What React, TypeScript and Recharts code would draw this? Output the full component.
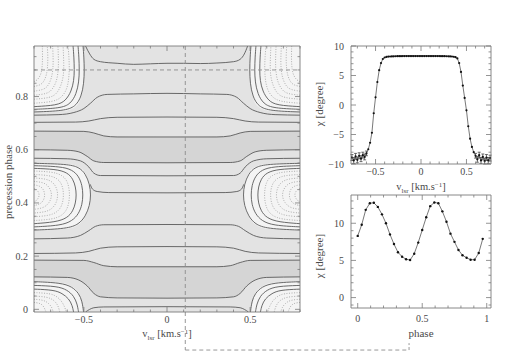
import React from 'react';
import { ComposedChart, Line, Area, XAxis, YAxis, ReferenceLine, ErrorBar } from 'recharts';

type Pt = [number, number];

// ---------- tick values ----------
const contourVTicks = [-0.8, -0.7, -0.6, -0.5, -0.4, -0.3, -0.2, -0.1, 0, 0.1, 0.2, 0.3, 0.4, 0.5, 0.6, 0.7, 0.8];
const contourPhaseTicks = [0, 0.05, 0.1, 0.15, 0.2, 0.25, 0.3, 0.35, 0.4, 0.45, 0.5, 0.55, 0.6, 0.65, 0.7, 0.75, 0.8, 0.85, 0.9, 0.95];
const profileVTicks = [-0.7, -0.6, -0.5, -0.4, -0.3, -0.2, -0.1, 0, 0.1, 0.2, 0.3, 0.4, 0.5, 0.6, 0.7];
const profileChiTicks = [-10, -9, -8, -7, -6, -5, -4, -3, -2, -1, 0, 1, 2, 3, 4, 5, 6, 7, 8, 9, 10];
const phaseTicks = [0, 0.1, 0.2, 0.3, 0.4, 0.5, 0.6, 0.7, 0.8, 0.9, 1];
const phaseChiTicks = [-1, 0, 1, 2, 3, 4, 5, 6, 7, 8, 9, 10, 11, 12, 13];

// ---------- cuts ----------
const cutV = 0.11;
const cutPhase = 0.9;
const bracketPhase = -0.153;
const bracketTickPhase = -0.127;
const bracketEndV = 1.456;

// ---------- contour map: full-width contour lines (v, phase) ----------
const L1: Pt[] = [[-0.49, 0.99], [-0.465, 0.96], [-0.44, 0.94], [-0.4, 0.931], [-0.3, 0.925], [-0.2, 0.921], [-0.1, 0.923], [0, 0.925], [0.1, 0.925], [0.2, 0.924], [0.3, 0.926], [0.4, 0.931], [0.44, 0.94], [0.465, 0.96], [0.485, 0.99]];
const L2: Pt[] = [[-0.8, 0.73], [-0.65, 0.732], [-0.56, 0.74], [-0.5, 0.755], [-0.46, 0.775], [-0.42, 0.797], [-0.36, 0.808], [-0.2, 0.81], [0, 0.812], [0.2, 0.81], [0.36, 0.808], [0.42, 0.797], [0.46, 0.775], [0.5, 0.755], [0.56, 0.74], [0.65, 0.732], [0.8, 0.73]];
const L3: Pt[] = [[-0.8, 0.703], [-0.55, 0.704], [-0.47, 0.708], [-0.4, 0.717], [-0.3, 0.722], [0, 0.723], [0.3, 0.722], [0.4, 0.717], [0.47, 0.708], [0.55, 0.704], [0.8, 0.703]];
const L4: Pt[] = [[-0.8, 0.67], [-0.5, 0.669], [-0.44, 0.663], [-0.38, 0.652], [-0.3, 0.648], [0, 0.648], [0.3, 0.648], [0.38, 0.652], [0.44, 0.663], [0.5, 0.669], [0.8, 0.67]];
const L5: Pt[] = [[-0.8, 0.6], [-0.6, 0.598], [-0.53, 0.592], [-0.48, 0.575], [-0.44, 0.558], [-0.38, 0.552], [0, 0.551], [0.38, 0.552], [0.44, 0.558], [0.48, 0.575], [0.53, 0.592], [0.6, 0.598], [0.8, 0.6]];
const L6: Pt[] = [[-0.8, 0.568], [-0.6, 0.566], [-0.52, 0.558], [-0.47, 0.535], [-0.44, 0.512], [-0.4, 0.503], [0, 0.502], [0.4, 0.503], [0.44, 0.512], [0.47, 0.535], [0.52, 0.558], [0.6, 0.566], [0.8, 0.568]];
const L7: Pt[] = [[-0.462, 0.47], [-0.448, 0.452], [-0.42, 0.443], [-0.35, 0.439], [0, 0.438], [0.35, 0.439], [0.42, 0.443], [0.448, 0.452], [0.462, 0.47]];
const L8: Pt[] = [[-0.8, 0.265], [-0.6, 0.268], [-0.52, 0.278], [-0.47, 0.296], [-0.43, 0.312], [-0.38, 0.318], [0, 0.319], [0.38, 0.318], [0.43, 0.312], [0.47, 0.296], [0.52, 0.278], [0.6, 0.268], [0.8, 0.265]];
const L9: Pt[] = [[-0.8, 0.21], [-0.55, 0.212], [-0.47, 0.218], [-0.4, 0.23], [-0.3, 0.235], [0, 0.236], [0.3, 0.235], [0.4, 0.23], [0.47, 0.218], [0.55, 0.212], [0.8, 0.21]];
const L10: Pt[] = [[-0.8, 0.185], [-0.5, 0.184], [-0.44, 0.176], [-0.38, 0.164], [-0.3, 0.16], [0, 0.16], [0.3, 0.16], [0.38, 0.164], [0.44, 0.176], [0.5, 0.184], [0.8, 0.185]];
const L11: Pt[] = [[-0.8, 0.122], [-0.6, 0.12], [-0.53, 0.11], [-0.48, 0.088], [-0.44, 0.06], [-0.4, 0.047], [-0.3, 0.043], [0, 0.042], [0.3, 0.043], [0.4, 0.047], [0.44, 0.06], [0.48, 0.088], [0.53, 0.11], [0.6, 0.12], [0.8, 0.122]];
const L12: Pt[] = [[-0.49, -0.01], [-0.465, 0.0], [-0.44, 0.006], [-0.38, 0.009], [0, 0.01], [0.38, 0.009], [0.44, 0.006], [0.465, 0.0], [0.49, -0.01]];

// ---------- central islands (solid) ----------
const O1L: Pt[] = [[-0.8, 0.549], [-0.6, 0.546], [-0.53, 0.535], [-0.49, 0.51], [-0.465, 0.47], [-0.458, 0.43], [-0.465, 0.39], [-0.49, 0.35], [-0.53, 0.32], [-0.6, 0.303], [-0.8, 0.298]];
const O2L: Pt[] = [[-0.8, 0.54], [-0.64, 0.537], [-0.57, 0.525], [-0.53, 0.5], [-0.51, 0.465], [-0.505, 0.43], [-0.51, 0.395], [-0.53, 0.36], [-0.57, 0.332], [-0.64, 0.315], [-0.8, 0.31]];
const O3L: Pt[] = [[-0.8, 0.53], [-0.67, 0.527], [-0.6, 0.515], [-0.565, 0.49], [-0.55, 0.46], [-0.545, 0.43], [-0.55, 0.4], [-0.565, 0.37], [-0.6, 0.343], [-0.67, 0.328], [-0.8, 0.322]];
const O1R: Pt[] = [[0.8, 0.549], [0.6, 0.546], [0.53, 0.535], [0.49, 0.51], [0.465, 0.47], [0.458, 0.43], [0.465, 0.39], [0.49, 0.35], [0.53, 0.32], [0.6, 0.303], [0.8, 0.298]];
const O2R: Pt[] = [[0.8, 0.54], [0.64, 0.537], [0.57, 0.525], [0.53, 0.5], [0.51, 0.465], [0.505, 0.43], [0.51, 0.395], [0.53, 0.36], [0.57, 0.332], [0.64, 0.315], [0.8, 0.31]];
const O3R: Pt[] = [[0.8, 0.53], [0.67, 0.527], [0.6, 0.515], [0.565, 0.49], [0.55, 0.46], [0.545, 0.43], [0.55, 0.4], [0.565, 0.37], [0.6, 0.343], [0.67, 0.328], [0.8, 0.322]];

// ---------- central islands (dotted) ----------
const C1L: Pt[] = [[-0.8, 0.52], [-0.69, 0.517], [-0.63, 0.505], [-0.595, 0.48], [-0.583, 0.43], [-0.595, 0.38], [-0.63, 0.352], [-0.69, 0.338], [-0.8, 0.334]];
const C2L: Pt[] = [[-0.8, 0.507], [-0.71, 0.504], [-0.66, 0.493], [-0.63, 0.47], [-0.62, 0.43], [-0.63, 0.39], [-0.66, 0.365], [-0.71, 0.352], [-0.8, 0.348]];
const C3L: Pt[] = [[-0.8, 0.494], [-0.73, 0.491], [-0.69, 0.48], [-0.665, 0.46], [-0.655, 0.43], [-0.665, 0.4], [-0.69, 0.378], [-0.73, 0.366], [-0.8, 0.362]];
const C4L: Pt[] = [[-0.8, 0.481], [-0.75, 0.478], [-0.72, 0.468], [-0.7, 0.45], [-0.693, 0.43], [-0.7, 0.41], [-0.72, 0.392], [-0.75, 0.38], [-0.8, 0.376]];
const C5L: Pt[] = [[-0.8, 0.468], [-0.77, 0.465], [-0.745, 0.455], [-0.732, 0.43], [-0.745, 0.405], [-0.77, 0.394], [-0.8, 0.39]];
const C6L: Pt[] = [[-0.8, 0.455], [-0.785, 0.452], [-0.772, 0.44], [-0.768, 0.43], [-0.772, 0.42], [-0.785, 0.408], [-0.8, 0.405]];
const C1R: Pt[] = [[0.8, 0.52], [0.69, 0.517], [0.63, 0.505], [0.595, 0.48], [0.583, 0.43], [0.595, 0.38], [0.63, 0.352], [0.69, 0.338], [0.8, 0.334]];
const C2R: Pt[] = [[0.8, 0.507], [0.71, 0.504], [0.66, 0.493], [0.63, 0.47], [0.62, 0.43], [0.63, 0.39], [0.66, 0.365], [0.71, 0.352], [0.8, 0.348]];
const C3R: Pt[] = [[0.8, 0.494], [0.73, 0.491], [0.69, 0.48], [0.665, 0.46], [0.655, 0.43], [0.665, 0.4], [0.69, 0.378], [0.73, 0.366], [0.8, 0.362]];
const C4R: Pt[] = [[0.8, 0.481], [0.75, 0.478], [0.72, 0.468], [0.7, 0.45], [0.693, 0.43], [0.7, 0.41], [0.72, 0.392], [0.75, 0.38], [0.8, 0.376]];
const C5R: Pt[] = [[0.8, 0.468], [0.77, 0.465], [0.745, 0.455], [0.732, 0.43], [0.745, 0.405], [0.77, 0.394], [0.8, 0.39]];
const C6R: Pt[] = [[0.8, 0.455], [0.785, 0.452], [0.772, 0.44], [0.768, 0.43], [0.772, 0.42], [0.785, 0.408], [0.8, 0.405]];

// ---------- top islands ----------
const T1L: Pt[] = [[-0.8, 0.742], [-0.62, 0.746], [-0.55, 0.762], [-0.515, 0.8], [-0.5, 0.85], [-0.497, 0.9], [-0.5, 0.95], [-0.505, 0.99]];
const T2L: Pt[] = [[-0.8, 0.752], [-0.64, 0.756], [-0.58, 0.772], [-0.545, 0.81], [-0.53, 0.855], [-0.527, 0.9], [-0.53, 0.95], [-0.535, 0.99]];
const T3L: Pt[] = [[-0.8, 0.762], [-0.66, 0.767], [-0.61, 0.784], [-0.575, 0.82], [-0.56, 0.86], [-0.557, 0.9], [-0.56, 0.95], [-0.565, 0.99]];
const T4L: Pt[] = [[-0.8, 0.775], [-0.68, 0.78], [-0.63, 0.798], [-0.6, 0.83], [-0.59, 0.87], [-0.587, 0.91], [-0.59, 0.95], [-0.595, 0.99]];
const T5L: Pt[] = [[-0.8, 0.79], [-0.7, 0.795], [-0.66, 0.812], [-0.635, 0.845], [-0.622, 0.88], [-0.62, 0.92], [-0.625, 0.99]];
const T6L: Pt[] = [[-0.8, 0.805], [-0.72, 0.81], [-0.69, 0.826], [-0.665, 0.855], [-0.655, 0.89], [-0.652, 0.93], [-0.656, 0.99]];
const T7L: Pt[] = [[-0.8, 0.82], [-0.74, 0.826], [-0.715, 0.84], [-0.695, 0.868], [-0.686, 0.9], [-0.684, 0.94], [-0.688, 0.99]];
const T8L: Pt[] = [[-0.8, 0.838], [-0.76, 0.843], [-0.74, 0.857], [-0.725, 0.88], [-0.718, 0.91], [-0.716, 0.95], [-0.72, 0.99]];
const T9L: Pt[] = [[-0.8, 0.856], [-0.78, 0.862], [-0.762, 0.878], [-0.752, 0.9], [-0.748, 0.94], [-0.75, 0.99]];
const T1R: Pt[] = [[0.8, 0.742], [0.62, 0.746], [0.55, 0.762], [0.515, 0.8], [0.5, 0.85], [0.497, 0.9], [0.5, 0.95], [0.505, 0.99]];
const T2R: Pt[] = [[0.8, 0.752], [0.64, 0.756], [0.58, 0.772], [0.545, 0.81], [0.53, 0.855], [0.527, 0.9], [0.53, 0.95], [0.535, 0.99]];
const T3R: Pt[] = [[0.8, 0.762], [0.66, 0.767], [0.61, 0.784], [0.575, 0.82], [0.56, 0.86], [0.557, 0.9], [0.56, 0.95], [0.565, 0.99]];
const T4R: Pt[] = [[0.8, 0.775], [0.68, 0.78], [0.63, 0.798], [0.6, 0.83], [0.59, 0.87], [0.587, 0.91], [0.59, 0.95], [0.595, 0.99]];
const T5R: Pt[] = [[0.8, 0.79], [0.7, 0.795], [0.66, 0.812], [0.635, 0.845], [0.622, 0.88], [0.62, 0.92], [0.625, 0.99]];
const T6R: Pt[] = [[0.8, 0.805], [0.72, 0.81], [0.69, 0.826], [0.665, 0.855], [0.655, 0.89], [0.652, 0.93], [0.656, 0.99]];
const T7R: Pt[] = [[0.8, 0.82], [0.74, 0.826], [0.715, 0.84], [0.695, 0.868], [0.686, 0.9], [0.684, 0.94], [0.688, 0.99]];
const T8R: Pt[] = [[0.8, 0.838], [0.76, 0.843], [0.74, 0.857], [0.725, 0.88], [0.718, 0.91], [0.716, 0.95], [0.72, 0.99]];
const T9R: Pt[] = [[0.8, 0.856], [0.78, 0.862], [0.762, 0.878], [0.752, 0.9], [0.748, 0.94], [0.75, 0.99]];

// ---------- bottom islands ----------
const B1L: Pt[] = [[-0.8, 0.104], [-0.64, 0.1], [-0.57, 0.085], [-0.53, 0.06], [-0.51, 0.03], [-0.502, -0.01]];
const B2L: Pt[] = [[-0.8, 0.09], [-0.66, 0.087], [-0.6, 0.073], [-0.56, 0.05], [-0.54, 0.02], [-0.532, -0.01]];
const B3L: Pt[] = [[-0.8, 0.076], [-0.68, 0.073], [-0.63, 0.06], [-0.59, 0.04], [-0.57, 0.015], [-0.562, -0.01]];
const B4L: Pt[] = [[-0.8, 0.063], [-0.7, 0.06], [-0.66, 0.048], [-0.625, 0.025], [-0.605, -0.01]];
const B5L: Pt[] = [[-0.8, 0.05], [-0.72, 0.047], [-0.68, 0.035], [-0.655, 0.015], [-0.645, -0.01]];
const B6L: Pt[] = [[-0.8, 0.038], [-0.74, 0.035], [-0.71, 0.022], [-0.69, 0.005], [-0.685, -0.01]];
const B7L: Pt[] = [[-0.8, 0.026], [-0.76, 0.023], [-0.74, 0.01], [-0.728, -0.01]];
const B1R: Pt[] = [[0.8, 0.104], [0.64, 0.1], [0.57, 0.085], [0.53, 0.06], [0.51, 0.03], [0.502, -0.01]];
const B2R: Pt[] = [[0.8, 0.09], [0.66, 0.087], [0.6, 0.073], [0.56, 0.05], [0.54, 0.02], [0.532, -0.01]];
const B3R: Pt[] = [[0.8, 0.076], [0.68, 0.073], [0.63, 0.06], [0.59, 0.04], [0.57, 0.015], [0.562, -0.01]];
const B4R: Pt[] = [[0.8, 0.063], [0.7, 0.06], [0.66, 0.048], [0.625, 0.025], [0.605, -0.01]];
const B5R: Pt[] = [[0.8, 0.05], [0.72, 0.047], [0.68, 0.035], [0.655, 0.015], [0.645, -0.01]];
const B6R: Pt[] = [[0.8, 0.038], [0.74, 0.035], [0.71, 0.022], [0.69, 0.005], [0.685, -0.01]];
const B7R: Pt[] = [[0.8, 0.026], [0.76, 0.023], [0.74, 0.01], [0.728, -0.01]];

// ---------- shaded regions [v, low, high] ----------
const shadeAll: [number, number, number][] = [[-0.8, -0.01, 0.99], [0.8, -0.01, 0.99]];
const bandX = [-0.8, -0.6, -0.53, -0.48, -0.44, -0.38, 0, 0.38, 0.44, 0.48, 0.53, 0.6, 0.8];
const bandUpperLo = [0.6, 0.598, 0.592, 0.575, 0.558, 0.552, 0.551, 0.552, 0.558, 0.575, 0.592, 0.598, 0.6];
const bandUpperHi = [0.67, 0.669, 0.669, 0.667, 0.663, 0.652, 0.648, 0.652, 0.663, 0.667, 0.669, 0.669, 0.67];
const bandLowerLo = [0.122, 0.12, 0.11, 0.088, 0.06, 0.046, 0.042, 0.046, 0.06, 0.088, 0.11, 0.12, 0.122];
const bandLowerHi = [0.185, 0.185, 0.185, 0.182, 0.176, 0.164, 0.16, 0.164, 0.176, 0.182, 0.185, 0.185, 0.185];
const islandCenterL: [number, number, number][] = [[-0.8, 0.298, 0.549], [-0.6, 0.303, 0.546], [-0.53, 0.32, 0.535], [-0.49, 0.35, 0.51], [-0.465, 0.39, 0.47], [-0.458, 0.43, 0.43]];
const islandCenterR: [number, number, number][] = [[0.458, 0.43, 0.43], [0.465, 0.39, 0.47], [0.49, 0.35, 0.51], [0.53, 0.32, 0.535], [0.6, 0.303, 0.546], [0.8, 0.298, 0.549]];
const islandTopL: [number, number, number][] = [[-0.8, 0.742, 0.99], [-0.62, 0.746, 0.99], [-0.55, 0.762, 0.99], [-0.515, 0.8, 0.99], [-0.5, 0.85, 0.99]];
const islandTopR: [number, number, number][] = [[0.5, 0.85, 0.99], [0.515, 0.8, 0.99], [0.55, 0.762, 0.99], [0.62, 0.746, 0.99], [0.8, 0.742, 0.99]];
const islandBotL: [number, number, number][] = [[-0.8, -0.01, 0.104], [-0.64, -0.01, 0.1], [-0.57, -0.01, 0.085], [-0.53, -0.01, 0.06], [-0.502, -0.01, -0.01]];
const islandBotR: [number, number, number][] = [[0.502, -0.01, -0.01], [0.53, -0.01, 0.06], [0.57, -0.01, 0.085], [0.64, -0.01, 0.1], [0.8, -0.01, 0.104]];

// ---------- chi profile at phase 0.9 ----------
const profileV = [-0.76, -0.74, -0.72, -0.7, -0.68, -0.66, -0.64, -0.62, -0.6, -0.58, -0.56, -0.54, -0.52, -0.5, -0.48, -0.46, -0.44, -0.42, -0.4, -0.38, -0.36, -0.34, -0.32, -0.3, -0.28, -0.26, -0.24, -0.22, -0.2, -0.18, -0.16, -0.14, -0.12, -0.1, -0.08, -0.06, -0.04, -0.02, 0, 0.02, 0.04, 0.06, 0.08, 0.1, 0.12, 0.14, 0.16, 0.18, 0.2, 0.22, 0.24, 0.26, 0.28, 0.3, 0.32, 0.34, 0.36, 0.38, 0.4, 0.42, 0.44, 0.46, 0.48, 0.5, 0.52, 0.54, 0.56, 0.58, 0.6, 0.62, 0.64, 0.66, 0.68, 0.7, 0.72, 0.74, 0.76];
const profileChi = [-8.9, -9.4, -8.7, -9.3, -8.6, -9.1, -8.5, -8.8, -8.2, -7.5, -6.4, -4.7, -1.4, 1.3, 3.9, 5.9, 7.1, 7.8, 8.05, 8.15, 8.2, 8.22, 8.24, 8.25, 8.26, 8.27, 8.28, 8.28, 8.29, 8.29, 8.3, 8.3, 8.3, 8.3, 8.3, 8.3, 8.3, 8.3, 8.3, 8.3, 8.3, 8.3, 8.3, 8.3, 8.3, 8.3, 8.3, 8.29, 8.29, 8.28, 8.28, 8.27, 8.26, 8.25, 8.24, 8.22, 8.18, 8.1, 7.9, 7.1, 5.6, 3.3, 1.2, -0.9, -3.6, -5.7, -7.1, -8.0, -8.6, -9.2, -8.5, -9.4, -8.8, -9.5, -8.9, -9.4, -9.0];
const profileErr = [0.5, 0.5, 0.5, 0.5, 0.5, 0.5, 0.5, 0.5, 0.4, 0, 0, 0, 0, 0, 0, 0, 0, 0, 0, 0, 0, 0, 0, 0, 0, 0, 0, 0, 0, 0, 0, 0, 0, 0, 0, 0, 0, 0, 0, 0, 0, 0, 0, 0, 0, 0, 0, 0, 0, 0, 0, 0, 0, 0, 0, 0, 0, 0, 0, 0, 0, 0, 0, 0, 0, 0, 0, 0, 0.4, 0.5, 0.5, 0.5, 0.5, 0.5, 0.5, 0.5, 0.5];

// ---------- chi vs precession phase at v = 0.11 ----------
const phaseX = [0, 0.031, 0.062, 0.094, 0.125, 0.156, 0.188, 0.219, 0.25, 0.281, 0.312, 0.344, 0.375, 0.406, 0.438, 0.469, 0.5, 0.531, 0.562, 0.594, 0.625, 0.656, 0.688, 0.719, 0.75, 0.781, 0.812, 0.844, 0.875, 0.906, 0.938, 0.969];
const phaseChi = [8.3, 9.8, 11.8, 12.7, 12.75, 12.2, 11.2, 10.0, 8.5, 7.2, 6.1, 5.5, 5.15, 5.05, 5.9, 7.4, 9.1, 10.8, 12.3, 12.8, 12.7, 11.6, 10.2, 8.6, 7.5, 6.4, 5.7, 5.35, 5.1, 5.1, 6.0, 7.9];

// ---------- styles ----------
const FONT = '"Liberation Serif", "DejaVu Serif", "Times New Roman", serif';
const TEXT = '#4a4a4a';
const FRAME = '#7a7a7a';
const SOLID = '#5a5a5a';
const DOTTED = '#9c9c9c';
const DASH = '#8c8c8c';

// ---------- table builders ----------
const toXY = (pts: Pt[]) => pts.map(([x, y]) => ({ x, y }));
const toRange = (rows: [number, number, number][]) => rows.map(([x, lo, hi]) => ({ x, r: [lo, hi] }));
const bandRange = (lo: number[], hi: number[]) => bandX.map((x, i) => ({ x, r: [lo[i], hi[i]] }));
const profileData = profileV.map((x, i) => ({ x, y: profileChi[i], e: profileErr[i] }));
const phaseData = phaseX.map((x, i) => ({ x, y: phaseChi[i] }));

const fullLines: Pt[][] = [L1, L2, L3, L4, L5, L6, L7, L8, L9, L10, L11, L12];
const solidLoops: Pt[][] = [O1L, O2L, O3L, O1R, O2R, O3R, T1L, T2L, T3L, T1R, T2R, T3R, B1L, B2L, B3L, B1R, B2R, B3R];
const dottedLoops: Pt[][] = [C1L, C2L, C3L, C4L, C5L, C6L, C1R, C2R, C3R, C4R, C5R, C6R, T4L, T5L, T6L, T7L, T8L, T9L, T4R, T5R, T6R, T7R, T8R, T9R, B4L, B5L, B6L, B7L, B4R, B5R, B6R, B7R];

const fmtNum = (v: number) => {
  if (Math.abs(v) < 1e-9) return '0';
  const s = String(Math.round(v * 100) / 100);
  return s.replace('-', '\u2212');
};

type Side = 'bottom' | 'top' | 'left' | 'right';
const makeTick = (side: Side, majorStep: number, showLabel: boolean, gap: number) => (props: any) => {
  const { x, y, payload } = props;
  const v = payload && typeof payload.value === 'number' ? payload.value : 0;
  const major = Math.abs(v / majorStep - Math.round(v / majorStep)) < 1e-6;
  const len = major ? 5 : 2.5;
  let x2 = x;
  let y2 = y;
  if (side === 'bottom') y2 = y - len;
  if (side === 'top') y2 = y + len;
  if (side === 'left') x2 = x + len;
  if (side === 'right') x2 = x - len;
  return (
    <g>
      <line x1={x} y1={y} x2={x2} y2={y2} stroke={FRAME} strokeWidth={0.8} />
      {showLabel && major && side === 'bottom' ? (
        <text x={x} y={y + gap} textAnchor="middle" fontFamily={FONT} fontSize={10} fill={TEXT}>
          {fmtNum(v)}
        </text>
      ) : null}
      {showLabel && major && side === 'left' ? (
        <text x={x - gap} y={y + 3.5} textAnchor="end" fontFamily={FONT} fontSize={10} fill={TEXT}>
          {fmtNum(v)}
        </text>
      ) : null}
    </g>
  );
};

const axisLine = { stroke: FRAME, strokeWidth: 0.9 };

function frameAxes(xDomain: [number, number], yDomain: [number, number], xTicks: number[], yTicks: number[], xMajor: number, yMajor: number, xGap: number, yGap: number) {
  return [
    <XAxis key="xb" dataKey="x" type="number" domain={xDomain} allowDataOverflow ticks={xTicks} interval={0} height={1} tickSize={0} tickMargin={0} tickLine={false} axisLine={axisLine} tick={makeTick('bottom', xMajor, true, xGap)} />,
    <XAxis key="xt" xAxisId="top" orientation="top" dataKey="x" type="number" domain={xDomain} allowDataOverflow ticks={xTicks} interval={0} height={1} tickSize={0} tickMargin={0} tickLine={false} axisLine={axisLine} tick={makeTick('top', xMajor, false, 0)} />,
    <YAxis key="yl" type="number" domain={yDomain} allowDataOverflow ticks={yTicks} interval={0} width={1} tickSize={0} tickMargin={0} tickLine={false} axisLine={axisLine} tick={makeTick('left', yMajor, true, yGap)} />,
    <YAxis key="yr" yAxisId="right" orientation="right" type="number" domain={yDomain} allowDataOverflow ticks={yTicks} interval={0} width={1} tickSize={0} tickMargin={0} tickLine={false} axisLine={axisLine} tick={makeTick('right', yMajor, false, 0)} />,
  ];
}

function ContourMap() {
  return (
    <ComposedChart width={506} height={354} margin={{ top: 45, left: 33, right: 205, bottom: 41 }}>
      {frameAxes([-0.8, 0.8], [-0.01, 0.99], contourVTicks, contourPhaseTicks, 0.5, 0.2, 11, 6)}
      <Area data={toRange(shadeAll)} dataKey="r" type="linear" stroke="none" fill="#e3e3e3" fillOpacity={1} isAnimationActive={false} />
      <Area data={bandRange(bandUpperLo, bandUpperHi)} dataKey="r" type="monotone" stroke="none" fill="#d5d5d5" fillOpacity={1} isAnimationActive={false} />
      <Area data={bandRange(bandLowerLo, bandLowerHi)} dataKey="r" type="monotone" stroke="none" fill="#d5d5d5" fillOpacity={1} isAnimationActive={false} />
      {[islandCenterL, islandCenterR, islandTopL, islandTopR, islandBotL, islandBotR].map((rows, i) => (
        <Area key={'isl' + i} data={toRange(rows)} dataKey="r" type="monotone" stroke="none" fill="#f4f4f4" fillOpacity={1} isAnimationActive={false} />
      ))}
      {dottedLoops.map((pts, i) => (
        <Line key={'d' + i} data={toXY(pts)} dataKey="y" type="basis" stroke={DOTTED} strokeWidth={0.8} strokeDasharray="1 1.5" dot={false} activeDot={false} isAnimationActive={false} />
      ))}
      {solidLoops.map((pts, i) => (
        <Line key={'o' + i} data={toXY(pts)} dataKey="y" type="basis" stroke={SOLID} strokeWidth={0.9} dot={false} activeDot={false} isAnimationActive={false} />
      ))}
      {fullLines.map((pts, i) => (
        <Line key={'l' + i} data={toXY(pts)} dataKey="y" type="monotone" stroke={SOLID} strokeWidth={0.9} dot={false} activeDot={false} isAnimationActive={false} />
      ))}
      <ReferenceLine y={cutPhase} stroke={DASH} strokeDasharray="4 3" strokeWidth={0.9} />
      <ReferenceLine segment={[{ x: cutV, y: 0.99 }, { x: cutV, y: bracketPhase }]} ifOverflow="visible" stroke={DASH} strokeDasharray="4 3" strokeWidth={0.9} />
      <ReferenceLine segment={[{ x: cutV, y: bracketPhase }, { x: bracketEndV, y: bracketPhase }]} ifOverflow="visible" stroke={DASH} strokeDasharray="4 3" strokeWidth={0.9} />
      <ReferenceLine segment={[{ x: bracketEndV, y: bracketPhase }, { x: bracketEndV, y: bracketTickPhase }]} ifOverflow="visible" stroke={DASH} strokeDasharray="3 2" strokeWidth={0.9} />
    </ComposedChart>
  );
}

function ProfileChart() {
  return (
    <ComposedChart width={506} height={354} margin={{ top: 45, left: 350, right: 14, bottom: 189 }}>
      {frameAxes([-0.77, 0.77], [-10, 10], profileVTicks, profileChiTicks, 0.5, 5, 11, 7)}
      <Line data={profileData} dataKey="y" type="linear" stroke="#555" strokeWidth={0.8} dot={{ r: 1.1, fill: '#111', stroke: 'none' }} activeDot={false} isAnimationActive={false}>
        <ErrorBar dataKey="e" width={1.5} stroke="#333" strokeWidth={0.7} direction="y" />
      </Line>
    </ComposedChart>
  );
}

function PhaseChart() {
  return (
    <ComposedChart width={506} height={354} margin={{ top: 194, left: 350, right: 14, bottom: 45 }}>
      {frameAxes([-0.052, 1.033], [-1.4, 13.8], phaseTicks, phaseChiTicks, 0.5, 5, 14, 7)}
      <Line data={phaseData} dataKey="y" type="linear" stroke="#555" strokeWidth={0.8} dot={{ r: 1.2, fill: '#111', stroke: 'none' }} activeDot={false} isAnimationActive={false} />
    </ComposedChart>
  );
}

const VlsrLabel = ({ x, y }: { x: number; y: number }) => (
  <text x={x} y={y} textAnchor="middle" fontFamily={FONT} fontSize={10.5} fill={TEXT}>
    v<tspan dy={2.5} fontSize={7}>lsr</tspan>
    <tspan dy={-2.5}> [km.s</tspan>
    <tspan dy={-3.5} fontSize={7}>{'\u22121'}</tspan>
    <tspan dy={3.5}>]</tspan>
  </text>
);

export default function App() {
  const abs: React.CSSProperties = { position: 'absolute', left: 0, top: 0 };
  return (
    <div style={{ position: 'absolute', left: 0, top: 0, width: 506, height: 354, background: '#fff', overflow: 'hidden' }}>
      <div style={abs}><ContourMap /></div>
      <div style={abs}><ProfileChart /></div>
      <div style={abs}><PhaseChart /></div>
      <svg width={506} height={354} style={{ ...abs, pointerEvents: 'none' }}>
        <text transform="translate(11.5,182) rotate(-90)" textAnchor="middle" fontFamily={FONT} fontSize={11} fill={TEXT}>precession phase</text>
        <VlsrLabel x={167} y={337} />
        <VlsrLabel x={421} y={190} />
        <text transform="translate(322.5,104) rotate(-90)" textAnchor="middle" fontFamily={FONT} fontSize={11} fill={TEXT}>{'\u03c7 [degree]'}</text>
        <text transform="translate(322.5,256) rotate(-90)" textAnchor="middle" fontFamily={FONT} fontSize={11} fill={TEXT}>{'\u03c7 [degree]'}</text>
        <text x={421} y={337} textAnchor="middle" fontFamily={FONT} fontSize={11} fill={TEXT}>phase</text>
      </svg>
    </div>
  );
}
